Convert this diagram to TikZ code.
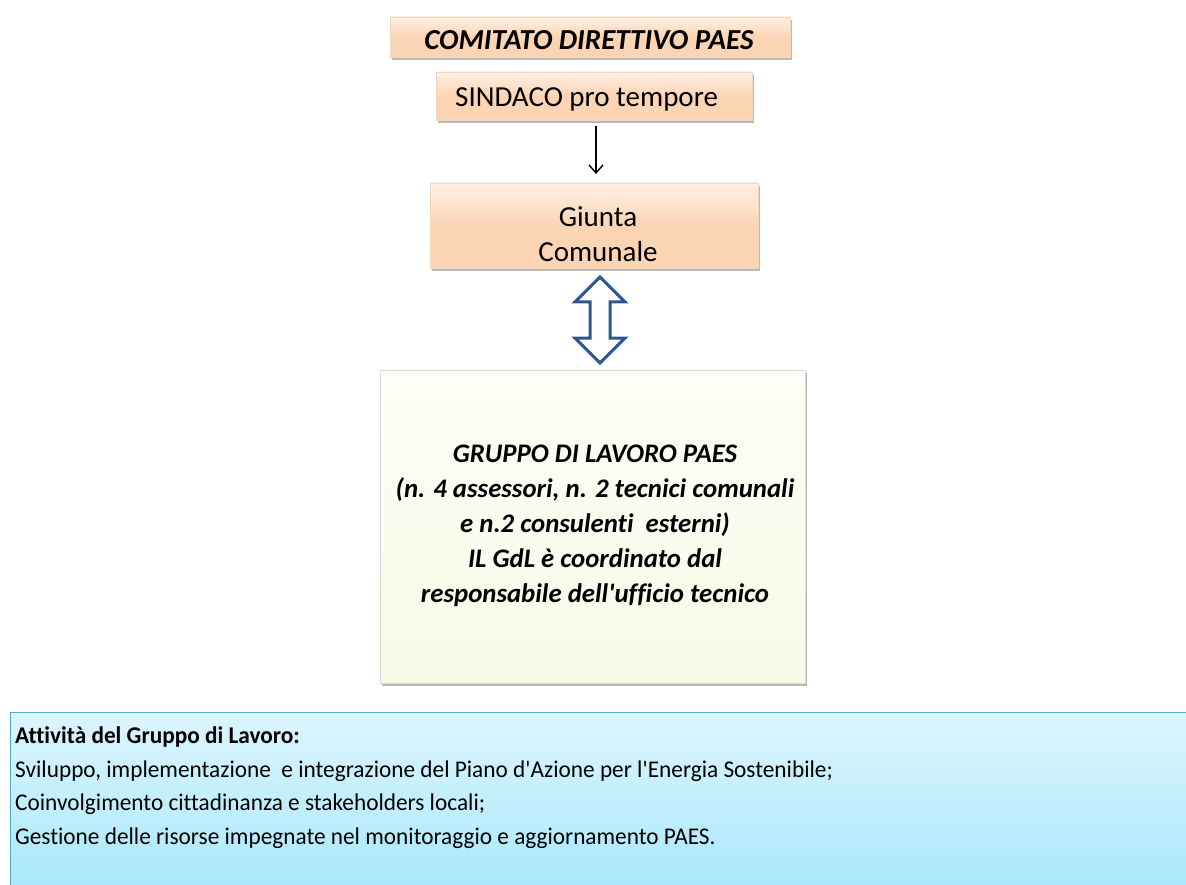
\documentclass[tikz,border=0pt]{standalone}
\usepackage{fontspec}
\setmainfont{Carlito}[Ligatures=NoCommon]
\newfontfamily\condfont[FakeStretch=0.97,Ligatures=NoCommon]{Carlito}
\usetikzlibrary{shadows,arrows.meta}
\definecolor{peach}{HTML}{FBD4B4}
\definecolor{peachtop}{HTML}{FEF0E4}
\definecolor{cream}{HTML}{F7FAE6}
\definecolor{creamtop}{HTML}{FDFEF6}
\definecolor{navy}{HTML}{2E5590}
\definecolor{teal}{HTML}{4BACC6}
\definecolor{cyantop}{HTML}{DDF5FD}
\definecolor{cyanbot}{HTML}{A8E8FB}
\tikzset{
  peachbox/.style={draw=peach!70!brown!60, line width=0.6pt, top color=peachtop, bottom color=peach, middle color=peach,
    drop shadow={shadow xshift=2pt, shadow yshift=-3pt, fill=black!45, opacity=0.6}},
  creambox/.style={draw=black!15, line width=0.6pt, top color=creamtop, bottom color=cream,
    drop shadow={shadow xshift=2pt, shadow yshift=-3pt, fill=black!45, opacity=0.6}},
  bluebox/.style={draw=teal, line width=1pt, top color=cyantop, bottom color=cyanbot},
  txt/.style={text=black, align=center},
  actline/.style={anchor=base west, inner sep=0pt, text=black, font=\condfont\fontsize{24}{28}\selectfont},
}
\begin{document}
\begin{tikzpicture}[x=1pt,y=-1pt]
\useasboundingbox (0,0) rectangle (1186,885);
% boxes
\path[peachbox] (390,17) rectangle (790,57);
\node[txt, font=\fontsize{29}{30}\selectfont\bfseries\itshape] (com) at (589,40) {COMITATO DIRETTIVO PAES};
\path[peachbox] (436,72) rectangle (752,120);
\node[txt, font=\fontsize{29}{30}\selectfont, anchor=base west, inner sep=0pt] (sin) at (455,107) {SINDACO pro tempore};
\path[peachbox] (430,183) rectangle (758,268);
\node[txt, font=\fontsize{29}{35}\selectfont] (giu) at (598,234) {Giunta\\Comunale};
\coordinate (sinb) at (596,126);
\coordinate (giut) at (596,174);
\draw[-{Straight Barb[length=8pt,width=14pt]}, line width=1.4pt] (sinb) -- (giut);
% double arrow
\draw[navy, line width=3pt, fill=white, line join=miter]
  (600,277) -- (625,302) -- (610,302) -- (610,338) -- (625,338) -- (600,363)
  -- (575,338) -- (590,338) -- (590,302) -- (575,302) -- cycle;
\path[creambox] (380,370) rectangle (805,683);
\node[txt, font=\fontsize{26.8}{35}\selectfont\bfseries\itshape] (grp) at (595,526)
  {GRUPPO DI LAVORO PAES\\(n. 4 assessori, n. 2 tecnici comunali\\e n.2 consulenti\ \ esterni)\\IL GdL è coordinato dal\\responsabile dell\textquotesingle ufficio tecnico};
\path[bluebox] (10,712) rectangle (1190,890);
\node[actline] (a1) at (15,743) {\bfseries Attività del Gruppo di Lavoro:};
\node[actline] (a2) at (15,777) {Sviluppo,\ implementazione\ \ e integrazione del Piano d\textquotesingle Azione per l\textquotesingle Energia Sostenibile;};
\node[actline] (a3) at (15,810) {Coinvolgimento cittadinanza e stakeholders locali;};
\node[actline] (a4) at (15,844) {Gestione delle risorse impegnate nel monitoraggio e aggiornamento PAES.};
\end{tikzpicture}
\end{document}
